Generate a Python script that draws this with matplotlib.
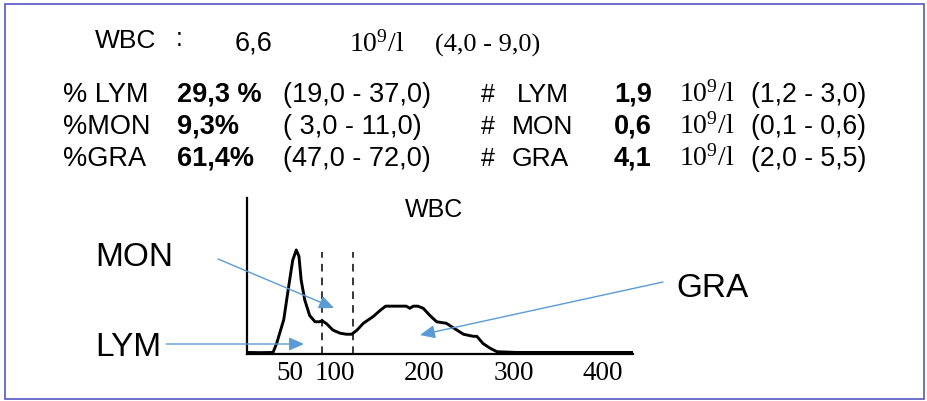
import matplotlib
matplotlib.use("Agg")
import matplotlib.pyplot as plt
from matplotlib.patches import Rectangle

plt.rcParams['mathtext.fontset'] = 'custom'
plt.rcParams['mathtext.rm'] = 'Liberation Serif'

# WBC volume histogram (height scaled so the LYM peak = 100)
hist_x = [2, 16, 31, 35, 43, 48, 53, 57, 60, 62.5, 66.5, 72, 78, 83, 86, 91, 98, 106,
          113, 119, 125, 132, 143, 151, 157, 166, 180, 184, 188, 193, 199, 206, 214,
          225, 233, 244, 255, 259, 266, 274, 281.5, 303, 343, 383, 433]
hist_y = [1.5, 1.3, 1.5, 10, 33, 62, 90, 100, 94, 71, 52, 37, 31, 31, 32, 29, 23, 20,
          19, 19, 23, 29.5, 36, 42, 46, 46, 46, 44, 46, 46, 44, 37.5, 31,
          29.5, 25, 19, 17, 17, 10, 5.5, 2.2, 1.5, 1.5, 1.5, 1.5]
gate_x = [86, 120]
tick_vals = [50, 100, 200, 300, 400]

wbc_row = ["WBC", ":", "6,6", "(4,0 - 9,0)"]
pct_names = ["% LYM", "%MON", "%GRA"]
pct_vals = ["29,3 %", "9,3%", "61,4%"]
pct_ranges = ["(19,0 - 37,0)", "( 3,0 - 11,0)", "(47,0 - 72,0)"]
abs_names = ["LYM", "MON", "GRA"]
abs_vals = ["1,9", "0,6", "4,1"]
abs_ranges = ["(1,2 - 3,0)", "(0,1 - 0,6)", "(2,0 - 5,5)"]

SANS = 'Liberation Sans'
SERIF = 'Liberation Serif'
ARROW = '#5b9bd5'

fig = plt.figure(figsize=(9.28, 4.01), dpi=100)

# histogram axes, placed in pixels: x 247..633, y 198..354
W, H = 928, 401
hx = fig.add_axes([247 / W, (H - 354) / H, (633 - 247) / W, (354 - 198) / H])
hx.plot(hist_x, hist_y, color='black', lw=2.1, solid_joinstyle='round')
for gx in gate_x:
    hx.plot([gx, gx], [0, 98], color='black', lw=1.1, ls=(0, (5, 4)))
hx.set_xlim(1.9, 433.7)
hx.set_ylim(0, 150)
hx.spines['top'].set_visible(False)
hx.spines['right'].set_visible(False)
hx.spines['left'].set_linewidth(1.6)
hx.spines['bottom'].set_linewidth(1.6)
hx.set_yticks([])
hx.set_xticks(tick_vals)
hx.set_xticklabels([str(v) for v in tick_vals], fontfamily=SERIF, fontsize=19.5)
hx.tick_params(axis='x', length=0, pad=5)
hx.patch.set_visible(False)

# overlay in pixel coordinates for text, arrows and frame
ov = fig.add_axes([0, 0, 1, 1])
ov.set_xlim(0, W)
ov.set_ylim(H, 0)
ov.axis('off')
ov.patch.set_visible(False)

ov.add_patch(Rectangle((5, 4), 919, 395, fill=False, ec='#5558c0', lw=1.2))


def t(x, y, s, size=19, family=SANS, weight='normal'):
    ov.text(x, y, s, fontsize=size, fontfamily=family, fontweight=weight,
            ha='left', va='baseline')


unit = r'$\mathrm{10^{9}/l}$'

t(95, 48, wbc_row[0], 19)
t(176, 46, wbc_row[1], 18)
t(235, 51, wbc_row[2], 19.5)
t(349, 52, unit, 20, SERIF)
t(435, 52, wbc_row[3], 19, SERIF)

row_base = [102, 134, 166]
for i in range(3):
    y = row_base[i]
    t(63, y, pct_names[i], 19.5)
    t(177, y, pct_vals[i], 19.5, weight='bold')
    t(283, y, pct_ranges[i], 19.5)
    t(481, y, "#", 18)
    t(517 if i == 0 else 512, y, abs_names[i], 19)
    t(614, y, abs_vals[i], 19.5, weight='bold')
    t(679, y, unit, 20, SERIF)
    t(751, y, abs_ranges[i], 19.2)

t(405, 217, "WBC", 18)

t(95, 266, "MON", 24)
t(95, 356, "LYM", 24)
t(676, 297, "GRA", 24)

arrow_kw = dict(arrowstyle='-|>,head_length=0.45,head_width=0.2',
                color=ARROW, lw=1.0, mutation_scale=20, shrinkA=0, shrinkB=0)
ov.annotate('', xy=(334, 308), xytext=(218, 259), arrowprops=arrow_kw)
ov.annotate('', xy=(304, 344), xytext=(166, 344), arrowprops=arrow_kw)
ov.annotate('', xy=(420, 335), xytext=(663, 282), arrowprops=arrow_kw)

fig.savefig('out.png', dpi=100)
